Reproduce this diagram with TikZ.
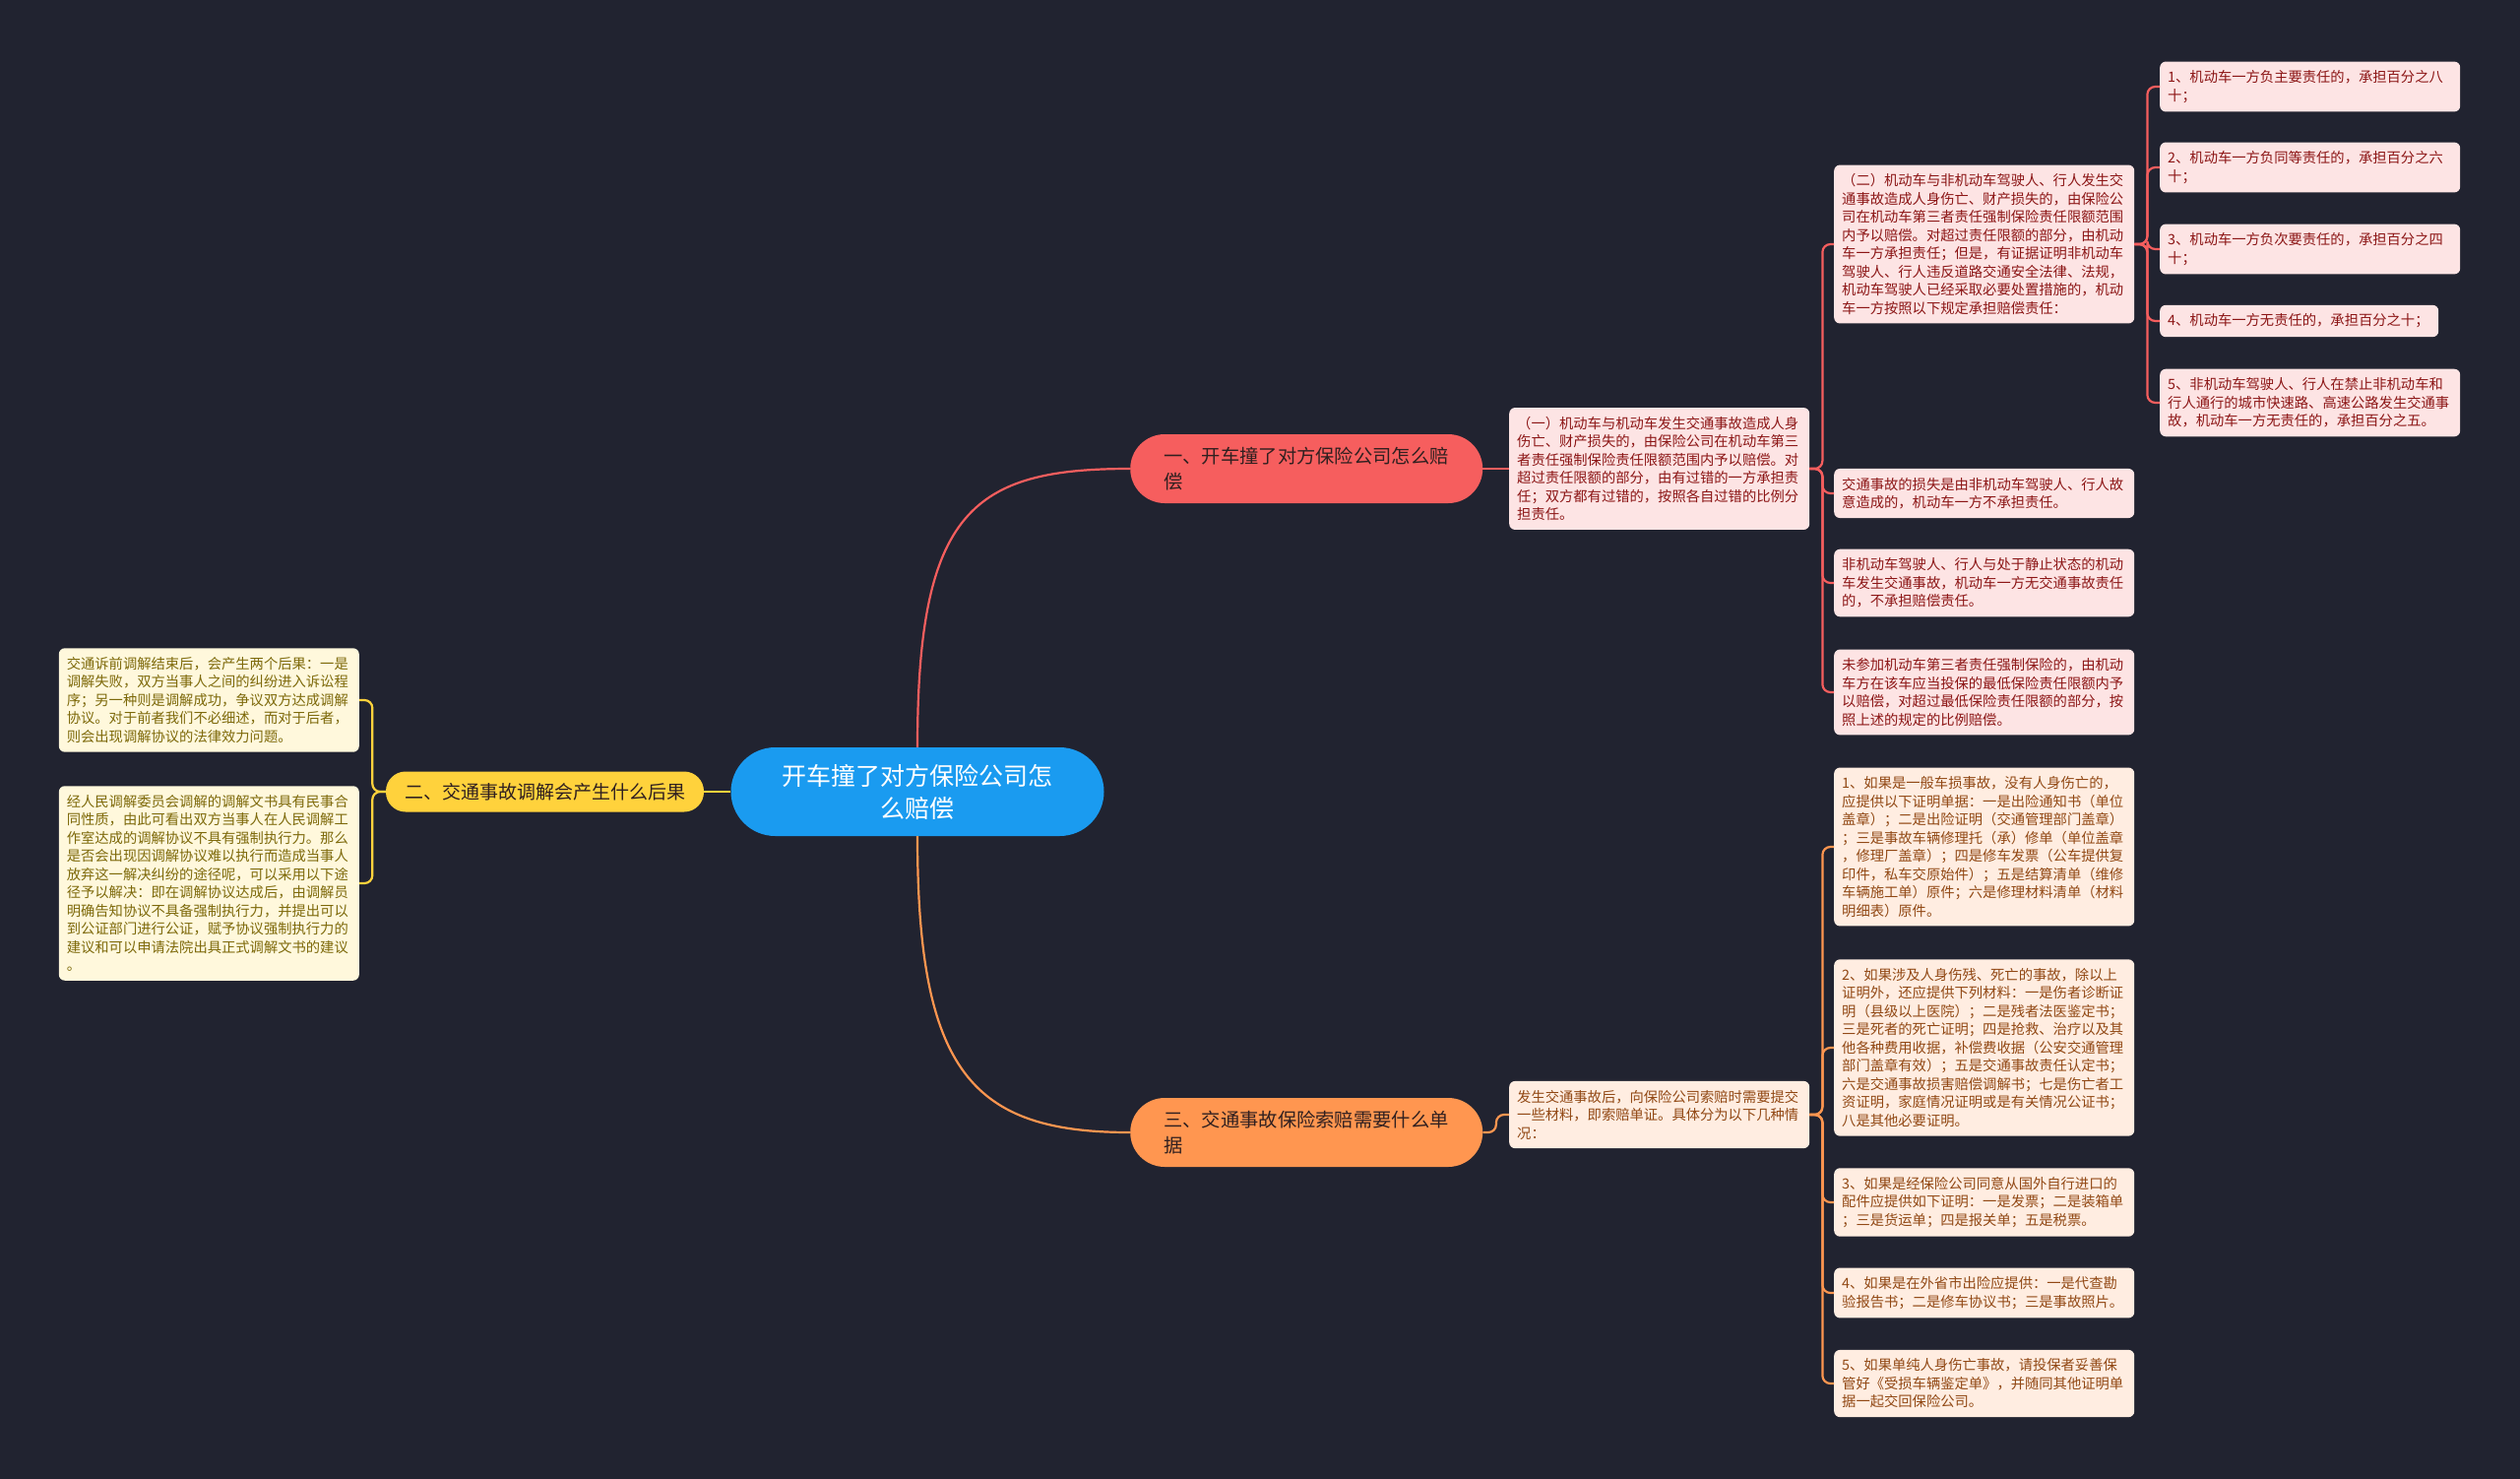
\documentclass[tikz,border=0pt]{standalone}
\usepackage{fontspec}
\newfontfamily\cjk{Noto Sans CJK SC}
\usetikzlibrary{positioning}
\definecolor{bg}{RGB}{33, 35, 48}
\definecolor{rootblue}{RGB}{26, 155, 240}
\definecolor{branchred}{RGB}{246, 94, 94}
\definecolor{branchorange}{RGB}{255, 150, 80}
\definecolor{branchyellow}{RGB}{255, 210, 60}
\definecolor{branchtext}{RGB}{48, 32, 32}
\definecolor{leafred}{RGB}{253, 228, 228}
\definecolor{textred}{RGB}{140, 22, 22}
\definecolor{leaforange}{RGB}{255, 237, 225}
\definecolor{textorange}{RGB}{145, 72, 20}
\definecolor{leafyellow}{RGB}{255, 248, 220}
\definecolor{textyellow}{RGB}{125, 105, 10}

\tikzset{
  root/.style={rectangle, rounded corners=45pt, fill=rootblue, text=white,
    minimum width=379pt, minimum height=90pt, align=center,
    font=\cjk\fontsize{25}{33}\selectfont},
  branch/.style={rectangle, rounded corners=35pt, minimum width=358pt,
    minimum height=70pt, text width=290pt, inner xsep=34pt, align=left,
    text=branchtext, font=\cjk\fontsize{19.3}{25.5}\selectfont},
  sidebranch/.style={rectangle, rounded corners=20pt, fill=branchyellow,
    minimum width=323pt, minimum height=41pt, text=branchtext,
    font=\cjk\fontsize{19}{24}\selectfont},
  leaf/.style={rectangle, rounded corners=6pt, text width=289pt,
    inner xsep=8pt, inner ysep=9pt, align=left,
    font=\cjk\fontsize{14.3}{18.5}\selectfont},
  redleaf/.style={leaf, fill=leafred, text=textred},
  orangeleaf/.style={leaf, fill=leaforange, text=textorange},
  yellowleaf/.style={leaf, fill=leafyellow, text=textyellow},
  link/.style={line width=2.2pt},
  elbow/.style={line width=2.2pt, rounded corners=8pt},
}

\begin{document}
\begin{tikzpicture}[x=1pt, y=-1pt]
  \useasboundingbox (0,0) rectangle (2560,1502);
  \fill[bg] (0,0) rectangle (2560,1502);

  % Root and main branches
  \node[root] (root) at (932, 804) {开车撞了对方保险公司怎\\么赔偿};
  \node[branch, fill=branchred, anchor=west] (pay) at (1148, 476)
    {一、开车撞了对方保险公司怎么赔\\偿};
  \node[branch, fill=branchorange, anchor=west] (docs) at (1148, 1150)
    {三、交通事故保险索赔需要什么单\\据};
  \node[sidebranch] (mediate) at (553.5, 804) {二、交通事故调解会产生什么后果};

  % Branch one
  \node[redleaf, anchor=west] (carcar) at (1533, 476)
    {（一）机动车与机动车发生交通事故造成人身\\伤亡、财产损失的，由保险公司在机动车第三\\者责任强制保险责任限额范围内予以赔偿。对\\超过责任限额的部分，由有过错的一方承担责\\任；双方都有过错的，按照各自过错的比例分\\担责任。};
  \node[redleaf, anchor=west] (carped) at (1863, 248)
    {（二）机动车与非机动车驾驶人、行人发生交\\通事故造成人身伤亡、财产损失的，由保险公\\司在机动车第三者责任强制保险责任限额范围\\内予以赔偿。对超过责任限额的部分，由机动\\车一方承担责任；但是，有证据证明非机动车\\驾驶人、行人违反道路交通安全法律、法规，\\机动车驾驶人已经采取必要处置措施的，机动\\车一方按照以下规定承担赔偿责任：};
  \node[redleaf, anchor=west] (intent) at (1863, 501)
    {交通事故的损失是由非机动车驾驶人、行人故\\意造成的，机动车一方不承担责任。};
  \node[redleaf, anchor=west] (parked) at (1863, 592)
    {非机动车驾驶人、行人与处于静止状态的机动\\车发生交通事故，机动车一方无交通事故责任\\的，不承担赔偿责任。};
  \node[redleaf, anchor=west] (uninsured) at (1863, 703)
    {未参加机动车第三者责任强制保险的，由机动\\车方在该车应当投保的最低保险责任限额内予\\以赔偿，对超过最低保险责任限额的部分，按\\照上述的规定的比例赔偿。};

  \node[redleaf, anchor=west] (share1) at (2194, 88)
    {1、机动车一方负主要责任的，承担百分之八\\十；};
  \node[redleaf, anchor=west] (share2) at (2194, 170)
    {2、机动车一方负同等责任的，承担百分之六\\十；};
  \node[redleaf, anchor=west] (share3) at (2194, 253)
    {3、机动车一方负次要责任的，承担百分之四\\十；};
  \node[redleaf, anchor=west, text width=267pt] (share4) at (2194, 326)
    {4、机动车一方无责任的，承担百分之十；};
  \node[redleaf, anchor=west] (share5) at (2194, 409)
    {5、非机动车驾驶人、行人在禁止非机动车和\\行人通行的城市快速路、高速公路发生交通事\\故，机动车一方无责任的，承担百分之五。};

  % Branch three
  \node[orangeleaf, anchor=west] (claim) at (1533, 1132)
    {发生交通事故后，向保险公司索赔时需要提交\\一些材料，即索赔单证。具体分为以下几种情\\况：};
  \node[orangeleaf, anchor=west] (case1) at (1863, 860)
    {1、如果是一般车损事故，没有人身伤亡的，\\应提供以下证明单据：一是出险通知书（单位\\盖章）；二是出险证明（交通管理部门盖章）\\；三是事故车辆修理托（承）修单（单位盖章\\，修理厂盖章）；四是修车发票（公车提供复\\印件，私车交原始件）；五是结算清单（维修\\车辆施工单）原件；六是修理材料清单（材料\\明细表）原件。};
  \node[orangeleaf, anchor=west] (case2) at (1863, 1064)
    {2、如果涉及人身伤残、死亡的事故，除以上\\证明外，还应提供下列材料：一是伤者诊断证\\明（县级以上医院）；二是残者法医鉴定书；\\三是死者的死亡证明；四是抢救、治疗以及其\\他各种费用收据，补偿费收据（公安交通管理\\部门盖章有效）；五是交通事故责任认定书；\\六是交通事故损害赔偿调解书；七是伤亡者工\\资证明，家庭情况证明或是有关情况公证书；\\八是其他必要证明。};
  \node[orangeleaf, anchor=west] (case3) at (1863, 1221)
    {3、如果是经保险公司同意从国外自行进口的\\配件应提供如下证明：一是发票；二是装箱单\\；三是货运单；四是报关单；五是税票。};
  \node[orangeleaf, anchor=west] (case4) at (1863, 1313)
    {4、如果是在外省市出险应提供：一是代查勘\\验报告书；二是修车协议书；三是事故照片。};
  \node[orangeleaf, anchor=west] (case5) at (1863, 1405)
    {5、如果单纯人身伤亡事故，请投保者妥善保\\管好《受损车辆鉴定单》，并随同其他证明单\\据一起交回保险公司。};

  % Branch two
  \node[yellowleaf, anchor=east] (result) at (365, 711)
    {交通诉前调解结束后，会产生两个后果：一是\\调解失败，双方当事人之间的纠纷进入诉讼程\\序；另一种则是调解成功，争议双方达成调解\\协议。对于前者我们不必细述，而对于后者，\\则会出现调解协议的法律效力问题。};
  \node[yellowleaf, anchor=east] (force) at (365, 897)
    {经人民调解委员会调解的调解文书具有民事合\\同性质，由此可看出双方当事人在人民调解工\\作室达成的调解协议不具有强制执行力。那么\\是否会出现因调解协议难以执行而造成当事人\\放弃这一解决纠纷的途径呢，可以采用以下途\\径予以解决：即在调解协议达成后，由调解员\\明确告知协议不具备强制执行力，并提出可以\\到公证部门进行公证，赋予协议强制执行力的\\建议和可以申请法院出具正式调解文书的建议\\。};

  % Connectors
  \draw[link, branchred] (root.north) .. controls +(0,-240) and +(-160,0) .. (pay.west);
  \draw[link, branchorange] (root.south) .. controls +(0,240) and +(-160,0) .. (docs.west);
  \draw[link, branchyellow] (root.west) -- (mediate.east);

  \draw[link, branchred] (pay.east) -- (carcar.west);
  \foreach \n in {carped, intent, parked, uninsured}
    \draw[elbow, branchred] (carcar.east) -- ++(13,0) |- (\n.west);
  \foreach \n in {share1, share2, share3, share4, share5}
    \draw[elbow, branchred] (carped.east) -- ++(13,0) |- (\n.west);

  \draw[elbow, branchorange] (docs.east) -- ++(13.5,0) |- (claim.west);
  \foreach \n in {case1, case2, case3, case4, case5}
    \draw[elbow, branchorange] (claim.east) -- ++(13,0) |- (\n.west);

  \foreach \n in {result, force}
    \draw[elbow, branchyellow] (mediate.west) -- ++(-13.5,0) |- (\n.east);
\end{tikzpicture}
\end{document}
